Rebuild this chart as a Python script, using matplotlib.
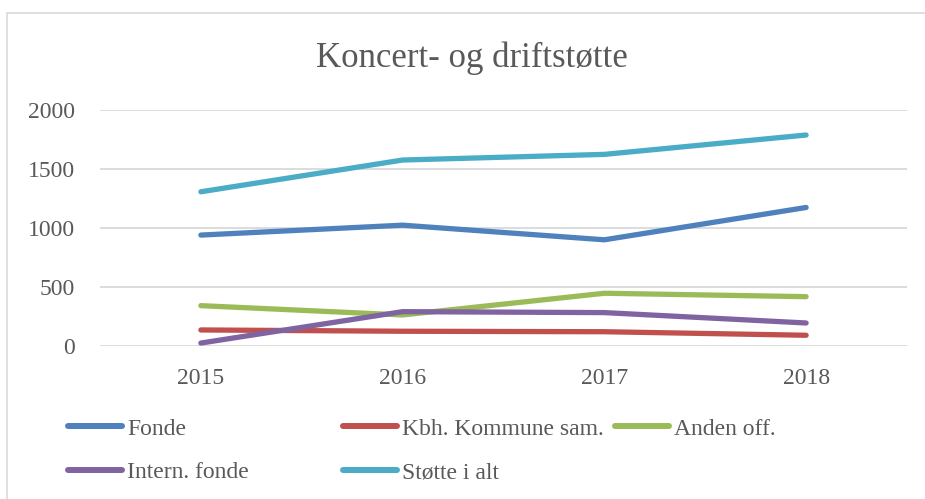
import matplotlib.pyplot as plt
from matplotlib.patches import Rectangle

# data
years = ['2015', '2016', '2017', '2018']
fonde = [940, 1024, 900, 1174]
kbh_kommune = [136, 125, 121, 91]
anden_off = [342, 263, 447, 418]
intern_fonde = [25, 291, 283, 195]
stotte_i_alt = [1307, 1576, 1624, 1788]

series = [
    ('Fonde', fonde, '#4F81BD'),
    ('Kbh. Kommune sam.', kbh_kommune, '#C0504D'),
    ('Anden off.', anden_off, '#9BBB59'),
    ('Intern. fonde', intern_fonde, '#8064A2'),
    ('Støtte i alt', stotte_i_alt, '#4BACC6'),
]

TEXT = '#595959'
GRID = '#D9D9D9'
plt.rcParams['font.family'] = ['Liberation Serif', 'DejaVu Serif']

W, H = 925, 499
fig = plt.figure(figsize=(W / 100, H / 100), dpi=100)

# outer chart border (runs off the right and bottom edges)
fig.patches.append(Rectangle((7 / W, -0.1), 1.2, 1 - 13 / H + 0.1,
                             transform=fig.transFigure, fill=False,
                             edgecolor=GRID, linewidth=1.2))

ax = fig.add_axes([100 / W, 1 - 346 / H, 807 / W, 236 / H])
x = list(range(len(years)))
handles = {}
for name, vals, color in series:
    line, = ax.plot(x, vals, color=color, linewidth=3.8,
                    solid_capstyle='round', solid_joinstyle='round', label=name)
    handles[name] = line

ax.set_xlim(-0.5, 3.5)
ax.set_ylim(0, 2000)
ax.set_yticks([0, 500, 1000, 1500, 2000])
ax.set_xticks(x)
ax.set_xticklabels(years)
ax.grid(axis='y', color=GRID, linewidth=1.3)
ax.set_axisbelow(True)
for s in ax.spines.values():
    s.set_visible(False)
ax.tick_params(axis='y', length=0, pad=18, labelsize=17, labelcolor=TEXT)
ax.tick_params(axis='x', length=0, pad=16, labelsize=17, labelcolor=TEXT)

fig.text(472 / W, 1 - 58 / H, 'Koncert- og driftstøtte', ha='center',
         va='center', fontsize=25, color=TEXT)

# legend, one block per column so the columns stay evenly spaced
columns = [(68, ['Fonde', 'Intern. fonde']),
           (343, ['Kbh. Kommune sam.', 'Støtte i alt']),
           (615, ['Anden off.'])]
for xpos, names in columns:
    leg = fig.legend([handles[n] for n in names], names,
                     loc='upper left', bbox_to_anchor=(xpos / W, 1 - 418 / H),
                     frameon=False, fontsize=17, handlelength=2.3,
                     handletextpad=0.2, labelspacing=0.95, borderpad=0,
                     borderaxespad=0)
    for t in leg.get_texts():
        t.set_color(TEXT)
    for h in leg.legend_handles:
        h.set_linewidth(4.3)

fig.savefig('out.png', dpi=100)
